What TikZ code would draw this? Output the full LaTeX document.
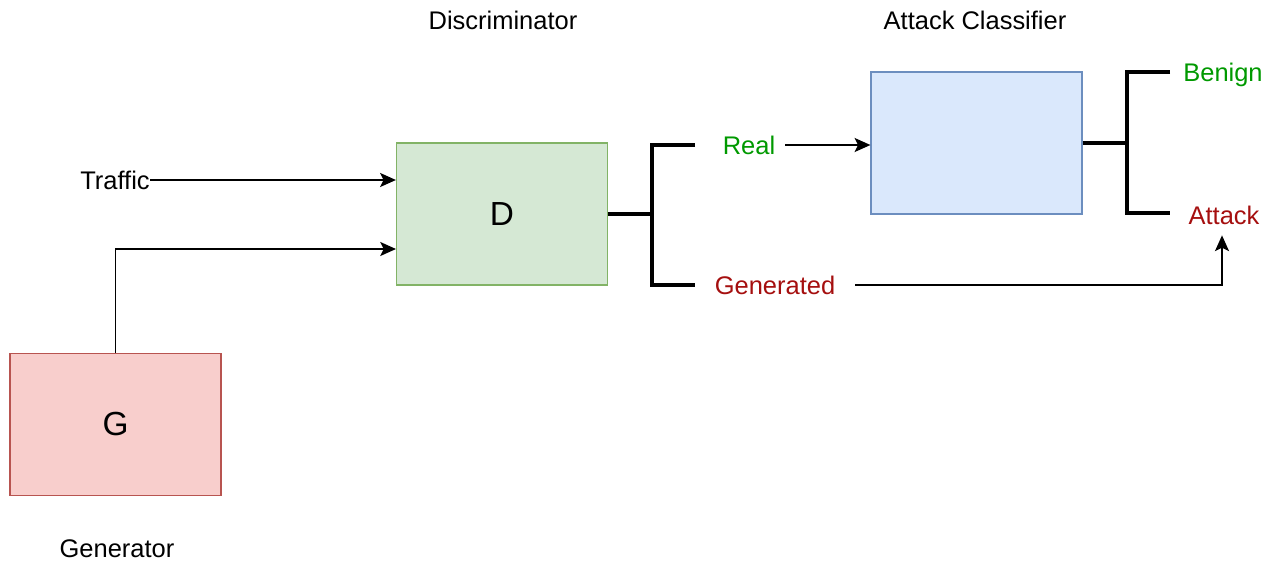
\documentclass[tikz,border=0pt]{standalone}
\usepackage{fontspec}
\setmainfont{Liberation Sans}
\usetikzlibrary{arrows.meta}

\definecolor{genfill}{HTML}{F8CECC}
\definecolor{genline}{HTML}{B85450}
\definecolor{disfill}{HTML}{D5E8D4}
\definecolor{disline}{HTML}{82B366}
\definecolor{clsfill}{HTML}{DAE8FC}
\definecolor{clsline}{HTML}{6C8EBF}
\definecolor{okgreen}{HTML}{009900}
\definecolor{badred}{HTML}{A50F0F}

\tikzset{
	block/.style = {rectangle, minimum width=4.22cm, minimum height=2.84cm, inner sep=0pt, line width=0.7pt, font=\fontsize{19}{22}\selectfont},
	lbl/.style = {inner sep=0pt, font=\fontsize{14.5}{17}\selectfont},
	flow/.style = {line width=1pt, -{Stealth[length=9pt, width=8pt, inset=2pt]}},
	fork/.style = {line width=1.9pt}
}

\begin{document}
\begin{tikzpicture}[x=0.02cm, y=-0.02cm]
	\useasboundingbox (0,0) rectangle (1281,565);
	% blocks
	\node[block, fill=genfill, draw=genline] (G) at (115.5,424.5) {G};
	\node[block, fill=disfill, draw=disline] (D) at (502,214) {D};
	\node[block, fill=clsfill, draw=clsline] (AC) at (976.5,143) {};
	% titles
	\node[lbl] (gentitle) at (117,549) {Generator};
	\node[lbl] (distitle) at (503,20) {Discriminator};
	\node[lbl] (clstitle) at (975,20) {Attack Classifier};
	% inputs of D
	\node[lbl, anchor=east] (traffic) at (150,180) {Traffic};
	\coordinate (din) at (396,249);
	\draw[flow] (traffic.east) -- (D.west |- traffic.east);
	\draw[flow] (G.north) |- (din);
	% outputs of D
	\node[lbl, text=okgreen] (real) at (749,145) {Real};
	\node[lbl, text=badred] (gen) at (775,285) {Generated};
	\coordinate (dfork) at (652,214);
	\coordinate (rin) at (695,145);
	\coordinate (gin) at (695,285);
	\draw[fork] (D.east) -- (dfork);
	\draw[fork] (rin) -| (dfork) |- (gin);
	% outputs of classifier
	\node[lbl, text=okgreen] (benign) at (1223,75) {Benign};
	\node[lbl, text=badred, minimum height=0.8cm] (attack) at (1224,215) {Attack};
	\coordinate (cfork) at (1127,143);
	\coordinate (bin) at (1170,72);
	\coordinate (ain) at (1170,213);
	\draw[fork] (AC.east) -- (cfork);
	\draw[fork] (bin) -| (cfork) |- (ain);
	% routing
	\coordinate (rout) at (785,145);
	\coordinate (gout) at (855,285);
	\draw[flow] (rout) -- (AC.west |- rout);
	\draw[flow] (gout) -| ([xshift=-0.04cm]attack.south);
\end{tikzpicture}
\end{document}
